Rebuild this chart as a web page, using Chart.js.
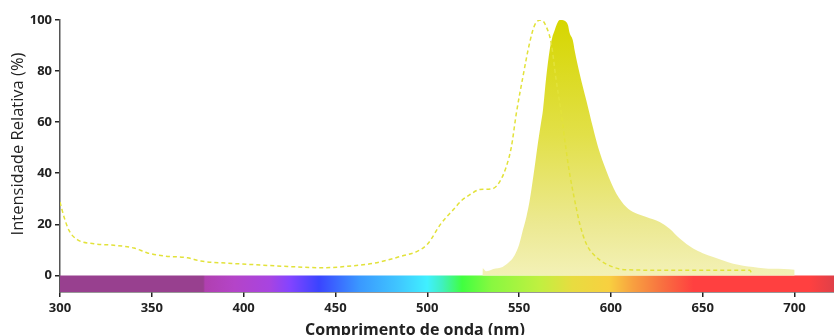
<!DOCTYPE html>
<html>
<head>
<meta charset="utf-8">
<script src="https://cdn.jsdelivr.net/npm/chart.js@4/dist/chart.umd.min.js"></script>
<style>
  html, body { margin: 0; padding: 0; background: #fff; }
  #wrap { width: 834px; height: 335px; }
</style>
</head>
<body>
<div id="wrap"><canvas id="chart"></canvas></div>
<script>
// Espectro de emissão (área preenchida)
const emWl  = [530, 530.2, 532, 536, 541, 545, 547.5, 550, 552, 554, 555.7, 557, 558.5, 560.3, 562, 563, 564.8, 566.6, 568, 569.4, 571, 572.1, 574.8, 576.6, 577.5, 579.3, 580.3, 583, 586.6, 590.2, 593, 597.5, 603, 608.4, 613, 619.3, 626.6, 632, 637.5, 644.8, 650, 655.7, 666.6, 677.5, 688.4, 700, 700.1];
const emVal = [0, 2.8, 1.6, 2.5, 3.3, 5.5, 7.8, 12, 17.6, 23, 29, 35, 42.5, 52, 60, 64.7, 77.8, 88, 93, 96, 99, 100, 99.7, 98, 95, 92, 88, 79, 68.6, 58, 50.3, 41, 32, 26.8, 24.5, 22.9, 20.9, 18.3, 14.4, 10.5, 8.7, 7.2, 4.6, 3.3, 2.6, 2.2, 0];

// Espectro de excitação (linha tracejada)
const exWl  = [300, 302.2, 304.9, 309.4, 318.5, 329.4, 340.3, 347.6, 356.7, 369.4, 376.7, 391.2, 405.8, 424, 442.1, 460.3, 471.2, 485.8, 494.8, 500.3, 507.5, 513.9, 519, 523, 528.5, 535.7, 539.4, 543, 545.8, 548.5, 552.1, 555.7, 558.5, 562.1, 564.8, 567.5, 570.2, 573, 575.4, 577.5, 580.3, 583, 586.6, 592, 601.1, 608.4, 637.5, 675.7, 676.5];
const exVal = [28.7, 22.9, 17.6, 14, 12.4, 11.8, 10.7, 8.8, 7.6, 6.9, 5.6, 4.8, 4.2, 3.5, 3.0, 3.8, 4.8, 7.5, 9.5, 12.4, 20.3, 25.5, 29.5, 31.5, 33.6, 34, 36.6, 42.5, 50.3, 63.4, 77.8, 90.9, 98, 100, 97.4, 90.9, 76.5, 63.4, 50.3, 40, 29.4, 20.3, 12.4, 7.2, 3.3, 2.2, 2, 2, 1];

// Barra de cores do espectro visível
const specWl  = [300, 378, 379, 395, 414, 425, 441, 463, 485, 500, 508, 519, 535, 561, 579, 599, 612, 628, 645, 708, 721.5];
const specCol = ['#98408f', '#98408f', '#b040b0', '#b444c8', '#a844e0', '#8444ff', '#3a44ff', '#3a98ff', '#40c8ff', '#40f0ff', '#40f0c0', '#40ff40', '#88f840', '#c0f040', '#e8dc40', '#f8d040', '#f8a040', '#f87040', '#ff4040', '#ff4040', '#e04048'];

const xTicks = [300, 350, 400, 450, 500, 550, 600, 650, 700];
const yTicks = [0, 20, 40, 60, 80, 100];
const xMin = 300, xMax = 721.5, yMin = -6.5, yMax = 100;

const tickFont = { family: 'Open Sans', size: 13, weight: 'bold' };

// Gradiente horizontal da barra
function specGradient(context) {
    const chart = context.chart;
    const area = chart.chartArea;
    if (!area) return specCol[0];
    const x = chart.scales.x;
    const x0 = x.getPixelForValue(xMin), x1 = x.getPixelForValue(xMax);
    const g = chart.ctx.createLinearGradient(x0, 0, x1, 0);
    specWl.forEach((w, i) => {
        g.addColorStop((w - xMin) / (xMax - xMin), specCol[i]);
    });
    return g;
}

// Gradiente vertical da emissão
function emGradient(context) {
    const chart = context.chart;
    if (!chart.chartArea) return '#e4e450';
    const y = chart.scales.y;
    const g = chart.ctx.createLinearGradient(0, y.getPixelForValue(100), 0, y.getPixelForValue(0));
    g.addColorStop(0, '#d6d600');
    g.addColorStop(0.45, '#e2e048');
    g.addColorStop(0.8, '#ece992');
    g.addColorStop(1, '#f3f1b6');
    return g;
}

// Títulos dos eixos
const axisTitles = {
    id: 'axisTitles',
    afterDraw(chart) {
        const ctx = chart.ctx;
        ctx.save();
        ctx.fillStyle = '#222';
        ctx.textAlign = 'center';
        ctx.textBaseline = 'middle';
        ctx.font = 'bold 16px "Open Sans"';
        ctx.fillText('Comprimento de onda (nm)', 415, 330);
        ctx.translate(18, 144);
        ctx.rotate(-Math.PI / 2);
        ctx.font = '16.5px "Open Sans"';
        ctx.fillText('Intensidade Relativa (%)', 0, 0);
        ctx.restore();
    }
};

const ctx = document.getElementById('chart').getContext('2d');
const chart = new Chart(ctx, {
    type: 'line',
    data: {
        datasets: [
            {
                label: 'Excitação',
                data: exWl.map((w, i) => ({ x: w, y: exVal[i] })),
                borderColor: '#e2e23a',
                borderWidth: 1.5,
                borderDash: [4, 3],
                pointRadius: 0,
                fill: false,
                cubicInterpolationMode: 'monotone',
                order: 0
            },
            {
                label: 'Emissão',
                data: emWl.map((w, i) => ({ x: w, y: emVal[i] })),
                borderWidth: 0,
                borderColor: 'rgba(0,0,0,0)',
                backgroundColor: emGradient,
                pointRadius: 0,
                fill: 'origin',
                cubicInterpolationMode: 'monotone',
                order: 1
            },
            {
                label: 'Espectro',
                data: [{ x: xMin, y: 0 }, { x: xMax, y: 0 }],
                borderWidth: 0,
                borderColor: 'rgba(0,0,0,0)',
                backgroundColor: specGradient,
                pointRadius: 0,
                fill: 'start',
                order: 2
            }
        ]
    },
    options: {
        responsive: true,
        maintainAspectRatio: false,
        animation: false,
        layout: { padding: { top: 20, right: 0, bottom: 0, left: 0 } },
        plugins: {
            legend: { display: false },
            tooltip: { enabled: false }
        },
        scales: {
            x: {
                type: 'linear',
                min: xMin,
                max: xMax,
                afterBuildTicks: s => { s.ticks = xTicks.map(v => ({ value: v })); },
                afterFit: s => { s.height = 43; },
                grid: { drawOnChartArea: false, drawTicks: true, tickLength: 5, tickColor: '#222', lineWidth: 1.5 },
                border: { color: '#333', width: 1.5 },
                ticks: { color: '#222', font: tickFont, padding: 3, maxRotation: 0 }
            },
            y: {
                min: yMin,
                max: yMax,
                afterBuildTicks: s => { s.ticks = yTicks.map(v => ({ value: v })); },
                afterFit: s => { s.width = 60; },
                grid: { drawOnChartArea: false, drawTicks: true, tickLength: 5, tickColor: '#222', lineWidth: 1.5 },
                border: { color: '#555', width: 1.5 },
                ticks: { color: '#222', font: tickFont, padding: 3 }
            }
        }
    },
    plugins: [axisTitles]
});
</script>
</body>
</html>
